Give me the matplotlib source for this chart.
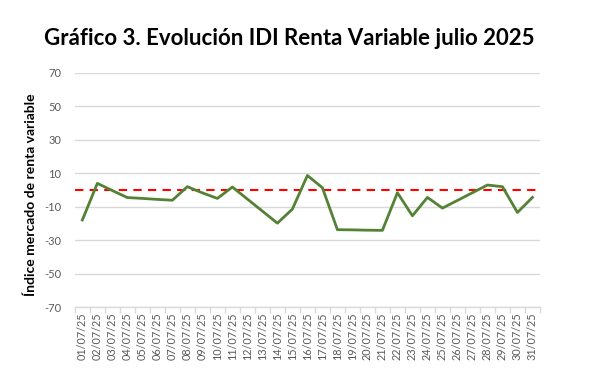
import matplotlib
matplotlib.use('Agg')
import matplotlib.pyplot as plt
import numpy as np

# Datos
fechas = ['01/07/25', '02/07/25', '03/07/25', '04/07/25', '05/07/25', '06/07/25',
          '07/07/25', '08/07/25', '09/07/25', '10/07/25', '11/07/25', '12/07/25',
          '13/07/25', '14/07/25', '15/07/25', '16/07/25', '17/07/25', '18/07/25',
          '19/07/25', '20/07/25', '21/07/25', '22/07/25', '23/07/25', '24/07/25',
          '25/07/25', '26/07/25', '27/07/25', '28/07/25', '29/07/25', '30/07/25',
          '31/07/25']
idi = [-17.9, 4.0, -0.3, -4.5, -5.0, -5.6, -6.1, 2.0, -1.7, -5.0, 1.8, -5.4,
       -12.6, -19.8, -11.4, 8.7, 1.4, -23.7, -23.8, -24.0, -24.1, -1.6, -15.4,
       -4.4, -10.8, -6.2, -1.6, 3.0, 2.0, -13.4, -4.4]
referencia = 0
yticks = [-70, -50, -30, -10, 10, 30, 50, 70]

plt.rcParams['font.family'] = ['Lato', 'DejaVu Sans']
plt.rcParams['axes.unicode_minus'] = False

fig = plt.figure(figsize=(5.94, 3.82), dpi=100)
ax = fig.add_axes([0.126, 0.196, 0.783, 0.613])

x = np.arange(len(fechas))
ax.plot(x, idi, color='#548235', linewidth=2, zorder=3)
ax.axhline(referencia, color='#ff0000', linestyle=(0, (4, 3)), linewidth=1.5, zorder=2)

ax.set_ylim(-70, 70)
ax.set_xlim(-0.5, len(fechas) - 0.5)
ax.set_yticks(yticks)
ax.yaxis.grid(True, color='#d9d9d9', linewidth=1)
ax.set_axisbelow(True)

for s in ['top', 'right', 'left']:
    ax.spines[s].set_visible(False)
ax.spines['bottom'].set_color('#d9d9d9')
ax.spines['bottom'].set_linewidth(1)

ax.tick_params(axis='y', length=0, labelsize=8, labelcolor='#595959', pad=10)
ax.set_xticks(x)
ax.set_xticklabels(fechas, rotation=90, fontsize=7.8, color='#595959')
ax.tick_params(axis='x', length=0, pad=4)
ax.set_xticks(np.arange(-0.5, len(fechas)), minor=True)
ax.tick_params(axis='x', which='minor', length=4, color='#d9d9d9', width=1)

ax.set_ylabel('Índice mercado de renta variable', fontsize=10, fontweight='bold')
ax.yaxis.set_label_coords(-0.082, 0.48)

fig.text(0.487, 0.882, 'Gráfico 3. Evolución IDI Renta Variable julio 2025',
         ha='center', va='baseline', fontsize=16, fontweight='bold')

fig.savefig('out.png', dpi=100)
